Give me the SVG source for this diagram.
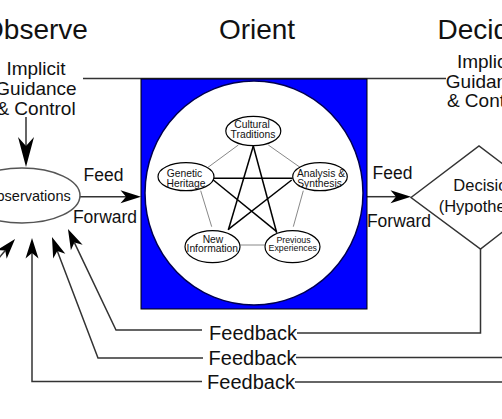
<svg xmlns="http://www.w3.org/2000/svg" width="502" height="419" viewBox="0 0 502 419">
<style>
text{font-family:"Liberation Sans",Arial,sans-serif;fill:#111;text-anchor:middle}
.title{font-size:28px}
.lbl{font-size:17.5px}
.ig{font-size:19px}
.fb{font-size:20px}
.sm{font-size:10.3px}
.xs{font-size:8.8px}
.conn{fill:none;stroke:#333;stroke-width:1.5}
.star{stroke:#000;stroke-width:1.5}
.pent{stroke:#888;stroke-width:1}
.node{fill:#fff;stroke:#000;stroke-width:1.2}
</style>
<defs>
<marker id="ah" markerUnits="userSpaceOnUse" orient="auto" overflow="visible" markerWidth="1" markerHeight="1">
<path d="M15,0 L-5.5,-6.5 L0,0 L-5.5,6.5 Z" fill="#000"/>
</marker>
<marker id="ahL" markerUnits="userSpaceOnUse" orient="auto" overflow="visible" markerWidth="1" markerHeight="1">
<path d="M21,0 L-9,-8 L0,0 L-9,8 Z" fill="#000"/>
</marker>
</defs>
<rect width="502" height="419" fill="#fff"/>

<g id="titles">
<text class="title" x="35" y="39">Observe</text>
<text class="title" x="257" y="39">Orient</text>
<text class="title" x="481" y="39">Decide</text>
</g>

<g id="guidance-observe">
<text class="ig" x="36" y="75">Implicit</text>
<text class="ig" x="36" y="95">Guidance</text>
<text class="ig" x="36" y="115">&amp; Control</text>
</g>
<g id="guidance-decide">
<text class="ig" x="486.5" y="68">Implicit</text>
<text class="ig" x="486.5" y="88">Guidance</text>
<text class="ig" x="486.5" y="107">&amp; Control</text>
</g>

<g id="connectors">
<path class="conn" d="M83,78.5 H446" stroke="#444"/>
<path class="conn" d="M26,117 V146" stroke="#000" marker-end="url(#ahL)"/>
<path class="conn" d="M80,196.7 H126" marker-end="url(#ah)"/>
<path class="conn" d="M367,196.7 H396" marker-end="url(#ah)"/>
<path class="conn" d="M202,330 H116 L74.4,242.6" marker-end="url(#ah)"/>
<path class="conn" d="M297,333 H480.5 V249"/>
<path class="conn" d="M203,358 H98 L57.3,251" marker-end="url(#ah)"/>
<path class="conn" d="M296,357.5 H505"/>
<path class="conn" d="M202,381.5 H32 V253" marker-end="url(#ah)"/>
<path class="conn" d="M295,382 H505"/>
<path class="conn" d="M-30,291.6 L5.3,250.4" marker-end="url(#ah)"/>
</g>

<g id="observations">
<ellipse cx="22" cy="195.5" rx="58" ry="27.5" fill="#fff" stroke="#555" stroke-width="1.5"/>
<text class="lbl" style="font-size:14.5px" x="28" y="200.5">Observations</text>
</g>

<g id="feed-forward-1">
<text class="lbl" x="103.5" y="181">Feed</text>
<text class="lbl" x="105" y="223">Forward</text>
</g>
<g id="feed-forward-2">
<text class="lbl" x="392.5" y="179">Feed</text>
<text class="lbl" x="399" y="227">Forward</text>
</g>

<g id="feedback-labels">
<text class="fb" x="253" y="339.5">Feedback</text>
<text class="fb" x="252.5" y="364.5">Feedback</text>
<text class="fb" x="251" y="388.5">Feedback</text>
</g>

<g id="decision">
<polygon points="411,197.5 479,146 547,197.5 480.5,249" fill="#fff" stroke="#333" stroke-width="1.5"/>
<text class="lbl" style="font-size:16.5px" x="485" y="191">Decision</text>
<text class="lbl" style="font-size:16.5px" x="485" y="212">(Hypothesis)</text>
</g>

<g id="orient">
<rect x="141" y="79" width="226" height="230" fill="#0000ff" stroke="#000" stroke-width="1"/>
<ellipse cx="254" cy="193" rx="109" ry="112" fill="#fff" stroke="#000050" stroke-width="1.5"/>
<g id="orient-links">
<line class="pent" x1="238.3" y1="145" x2="206.7" y2="168.3"/>
<line class="pent" x1="268.3" y1="145" x2="300" y2="167.3"/>
<line class="pent" x1="200.7" y1="190.7" x2="211.7" y2="226.7"/>
<line class="pent" x1="303.3" y1="190.7" x2="293.3" y2="226.7"/>
<line class="pent" x1="240" y1="245" x2="266" y2="245"/>
<line class="star" x1="253.3" y1="146" x2="228.3" y2="230"/>
<line class="star" x1="253.3" y1="146" x2="276.7" y2="232.7"/>
<line class="star" x1="214" y1="178.3" x2="292.7" y2="178.3"/>
<line class="star" x1="213.3" y1="180" x2="276.7" y2="231.7"/>
<line class="star" x1="291.7" y1="180" x2="228.3" y2="229.3"/>
</g>
<g id="cultural-traditions">
<ellipse class="node" cx="253.3" cy="131" rx="27.5" ry="14.7"/>
<text class="sm" x="252" y="128">Cultural</text>
<text class="sm" x="253" y="137.7">Traditions</text>
</g>
<g id="genetic-heritage">
<ellipse class="node" cx="186" cy="176.7" rx="28" ry="14"/>
<text class="sm" x="184.5" y="176.7">Genetic</text>
<text class="sm" x="186" y="186.5">Heritage</text>
</g>
<g id="analysis-synthesis">
<ellipse class="node" cx="320" cy="176.7" rx="27.3" ry="14"/>
<text class="sm" x="321" y="176.7">Analysis &amp;</text>
<text class="sm" x="319.5" y="186.5">Synthesis</text>
</g>
<g id="new-information">
<ellipse class="node" cx="212.5" cy="246.7" rx="27.5" ry="16"/>
<text class="sm" x="213" y="242.5">New</text>
<text class="sm" x="212.3" y="252">Information</text>
</g>
<g id="previous-experiences">
<ellipse class="node" cx="292.5" cy="246.7" rx="27.5" ry="16"/>
<text class="xs" x="293.5" y="242.5">Previous</text>
<text class="xs" x="292.8" y="251">Experiences</text>
</g>
</g>
</svg>
